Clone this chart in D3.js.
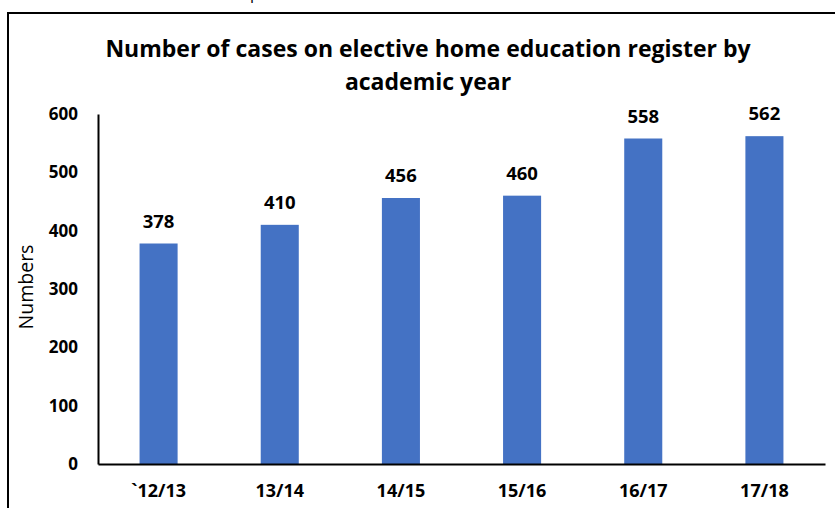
<!DOCTYPE html>
<html>
<head>
<meta charset="utf-8">
<script src="https://cdn.jsdelivr.net/npm/d3@7"></script>
<style>
  body { margin: 0; background: #fff; }
  svg { display: block; font-family: "Open Sans", Lato, sans-serif; }
</style>
</head>
<body>
<div id="chart"></div>
<script>
// academic years and number of cases
const years = ['`12/13', '13/14', '14/15', '15/16', '16/17', '17/18'];
const cases = [378, 410, 456, 460, 558, 562];
const yTicks = [0, 100, 200, 300, 400, 500, 600];
const titleLines = ['Number of cases on elective home education register by', 'academic year'];

const width = 835;
const height = 508;
const margin = { top: 114, right: 10, bottom: 44, left: 98 };
const font = '"Open Sans", Lato, sans-serif';

const svg = d3
  .select('div#chart')
  .append('svg')
  .attr('width', width)
  .attr('height', height);

// frame around the chart (right and bottom are cut off in the picture)
svg.append('rect')
  .attr('x', 8)
  .attr('y', 13)
  .attr('width', 900)
  .attr('height', 600)
  .attr('fill', 'none')
  .attr('stroke', '#000')
  .attr('stroke-width', 2);

// bit of text sitting above the frame
svg.append('text')
  .attr('x', 250)
  .attr('y', -1)
  .attr('font-size', 16)
  .text('p');

const x = d3
  .scaleBand()
  .domain(years)
  .range([margin.left, width - margin.right])
  .padding(0);

const y = d3
  .scaleLinear()
  .domain([0, 600])
  .range([height - margin.bottom, margin.top]);

const barW = x.bandwidth() * 0.314;

// title
svg.append('g')
  .selectAll('text')
  .data(titleLines)
  .join('text')
  .attr('x', 428)
  .attr('y', (d, i) => 57 + i * 33)
  .attr('text-anchor', 'middle')
  .attr('font-size', 23)
  .attr('font-weight', 'bold')
  .attr('fill', '#000')
  .text(d => d);

// bars
svg.append('g')
  .selectAll('rect')
  .data(cases)
  .join('rect')
  .attr('x', (d, i) => x(years[i]) + (x.bandwidth() - barW) / 2)
  .attr('y', d => y(d))
  .attr('width', barW)
  .attr('height', d => y(0) - y(d))
  .attr('fill', '#4472C4');

// value labels
svg.append('g')
  .selectAll('text')
  .data(cases)
  .join('text')
  .attr('x', (d, i) => x(years[i]) + x.bandwidth() / 2)
  .attr('y', d => y(d) - 16)
  .attr('text-anchor', 'middle')
  .attr('font-size', 18.5)
  .attr('font-weight', 'bold')
  .attr('fill', '#000')
  .text(d => d);

// y axis
const yAxis = svg.append('g')
  .attr('transform', `translate(${margin.left},0)`)
  .call(d3.axisLeft(y).tickValues(yTicks).tickSize(0).tickSizeOuter(0).tickPadding(20));
yAxis.select('.domain').attr('stroke', '#000').attr('stroke-width', 2);
yAxis.selectAll('text')
  .attr('font-family', font)
  .attr('font-size', 17)
  .attr('font-weight', 'bold')
  .attr('fill', '#000');

// x axis
const xAxis = svg.append('g')
  .attr('transform', `translate(0,${y(0)})`)
  .call(d3.axisBottom(x).tickSize(0).tickSizeOuter(0).tickPadding(20));
xAxis.select('.domain').attr('stroke', '#000').attr('stroke-width', 2);
xAxis.selectAll('text')
  .attr('font-family', font)
  .attr('font-size', 18)
  .attr('font-weight', 'bold')
  .attr('fill', '#000');

// y axis title
svg.append('text')
  .attr('transform', 'translate(33,287) rotate(-90)')
  .attr('text-anchor', 'middle')
  .attr('font-size', 19.5)
  .attr('fill', '#000')
  .text('Numbers');
</script>
</body>
</html>
